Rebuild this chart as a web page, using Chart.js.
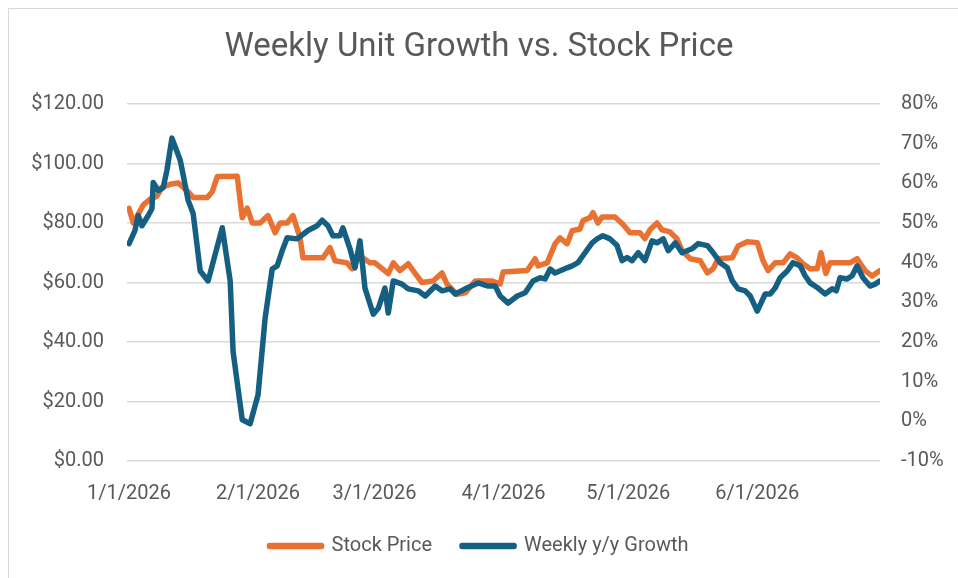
<!DOCTYPE html>
<html>
<head>
<meta charset="utf-8">
<title>Weekly Unit Growth vs. Stock Price</title>
<script src="https://cdn.jsdelivr.net/npm/chart.js@4.4.1/dist/chart.umd.min.js"></script>
<style>
  html, body { margin: 0; padding: 0; background: #ffffff; }
</style>
</head>
<body>
<canvas id="chart_growth" width="958" height="578"></canvas>
<script>
// x axis = days since 1/1/2026
var monthDays = [0, 31, 59, 90, 120, 151];
var monthLabels = ["1/1/2026", "2/1/2026", "3/1/2026", "4/1/2026", "5/1/2026", "6/1/2026"];

// stock price ($)
var priceDays = [0, 1.0, 3.4, 5.0, 6.7, 7.9, 9.9, 11.8, 14.2, 15.4, 18.8, 20.0, 21.2, 26.0, 27.2, 28.4, 29.6, 31.5, 33.4, 35.1,
  36.3, 38.0, 39.4, 41.1, 41.8, 46.6, 48.3, 49.5, 52.4, 53.6, 55.5, 57.9, 59.1, 62.3, 63.5, 65.1, 67.1, 68.8, 70.4, 73.1,
  75.2, 76.4, 78.8, 80.8, 83.2, 87.3, 89.2, 89.9, 95.7, 97.6, 98.3, 100.5, 102.4, 103.6, 105.3, 106.5, 108.4, 109.1, 110.8, 111.5,
  112.7, 113.7, 116.8, 118.8, 120.4, 122.8, 124.0, 125.2, 126.9, 128.1, 130.0, 131.7, 132.9, 134.9, 137.3, 139.0, 140.4, 141.6, 145.0, 146.4,
  148.6, 151.0, 152.4, 153.6, 155.3, 157.2, 158.9, 160.6, 162.0, 163.7, 165.4, 166.3, 167.5, 168.5, 173.3, 175.0, 176.9, 178.6, 180.5];
var priceValues = [84.9, 80, 86, 88, 89, 92, 93, 93.5, 90.5, 88.6, 88.6, 90.5, 95.6, 95.7, 81.8, 85, 80, 80, 82.5, 76.7,
  80, 80, 82.5, 75, 68.3, 68.3, 71.7, 67.3, 66.6, 64.6, 69, 66.6, 66.6, 63, 66.6, 64, 66.3, 63, 60, 60.5,
  63.2, 59.5, 56, 56.5, 60.5, 60.5, 59.5, 63.5, 64, 68, 65.6, 66.6, 73, 75, 73, 77.4, 78, 80.8, 81.8, 83.5,
  80, 82, 82, 79.4, 76.7, 76.7, 74.7, 77.7, 80, 77.7, 77, 74.7, 70.7, 68, 67.3, 63.2, 64.6, 68, 68.3, 72.3,
  73.7, 73.4, 67.3, 64, 66.6, 66.6, 69.6, 68.3, 66.3, 64.6, 64.6, 70, 63, 66.6, 66.6, 68, 64, 62.2, 64];

// weekly y/y growth (%)
var growthDays = [0, 1.4, 2.2, 3.1, 4.6, 5.5, 5.8, 7.0, 8.2, 9.1, 10.3, 12.3, 14.2, 15.4, 17.1, 19.0, 22.4, 24.3, 25.0, 27.2,
  29.1, 31.0, 32.7, 34.4, 35.6, 36.8, 38.0, 40.4, 43.0, 45.2, 46.4, 47.8, 49.0, 50.7, 51.4, 53.1, 54.3, 55.5, 56.7, 58.7,
  59.9, 61.5, 62.3, 63.5, 65.6, 67.1, 69.5, 71.2, 73.6, 75.2, 77.2, 78.4, 80.8, 83.9, 86.3, 88.0, 89.2, 91.1, 93.3, 95.2,
  97.1, 98.8, 100.0, 101.2, 102.4, 105.3, 106.5, 107.9, 109.6, 111.3, 112.5, 113.9, 115.6, 117.3, 118.5, 119.7, 120.9, 122.4, 124.0, 125.7,
  126.9, 128.4, 129.6, 131.3, 132.9, 135.3, 136.8, 139.0, 140.4, 142.1, 143.8, 145.0, 146.4, 148.1, 149.3, 151.0, 152.9, 154.1, 155.3, 156.5,
  158.2, 159.6, 161.3, 162.5, 163.7, 165.6, 167.3, 169.0, 170.0, 170.9, 172.6, 173.8, 175.0, 176.4, 178.1, 179.3, 180.5];
var growthValues = [44.8, 48.1, 51.9, 49.3, 51.9, 53.6, 60.2, 58.2, 58.9, 63.3, 71.4, 65.8, 55.7, 52.4, 37.9, 35.4, 48.8, 35.4, 17.6, 0.4,
  -0.6, 6.7, 26.0, 38.4, 39.2, 43, 46.3, 46, 48.1, 49.3, 50.7, 49.3, 46.8, 46.8, 48.8, 43.5, 38.7, 45.5, 33.6, 27,
  28.5, 33.6, 27.3, 35.4, 34.6, 33.4, 32.9, 31.6, 34.1, 32.9, 33.4, 32.1, 33.4, 34.9, 34.1, 34.1, 31.6, 29.8, 31.6, 32.4,
  35.4, 36.2, 35.9, 38.4, 37.4, 38.7, 39.2, 40, 42.5, 45, 46, 46.8, 46, 44.3, 40.5, 41.3, 40.5, 42.5, 40.5, 45.5,
  45, 46, 43, 45, 42.5, 43.5, 44.8, 44.3, 42.5, 40, 38.7, 35.4, 33.4, 32.9, 31.6, 27.8, 32.1, 32.1, 33.6, 36.2,
  37.9, 40, 39.2, 36.7, 34.9, 33.6, 32.1, 33.4, 32.9, 36.2, 35.9, 36.7, 39.2, 36.2, 34.1, 34.6, 35.4];

var priceTicks = [0, 20, 40, 60, 80, 100, 120];
var growthTicks = [-10, 0, 10, 20, 30, 40, 50, 60, 70, 80];

var textGray = '#595959';
var fontFam = 'Roboto, "Liberation Sans", sans-serif';

function toPoints(xs, ys) {
  return xs.map(function (x, i) { return { x: x, y: ys[i] }; });
}

// white background + light frame like the Excel chart area
var frame = {
  id: 'frame',
  beforeDraw: function (chart) {
    var c = chart.ctx;
    c.save();
    c.fillStyle = '#ffffff';
    c.fillRect(0, 0, chart.width, chart.height);
    c.strokeStyle = '#d9d9d9';
    c.lineWidth = 1;
    c.strokeRect(8.5, 8.5, 980, 600);
    c.restore();
  }
};

var ctx_growth = document.getElementById('chart_growth');

const chart_growth = new Chart(ctx_growth, {
  type: 'line',
  data: {
    datasets: [
      {
        label: 'Stock Price',
        data: toPoints(priceDays, priceValues),
        borderColor: '#E97132',
        backgroundColor: '#E97132',
        borderWidth: 5.5,
        pointRadius: 0,
        borderJoinStyle: 'round',
        borderCapStyle: 'round',
        yAxisID: 'y',
        order: 1
      },
      {
        label: 'Weekly y/y Growth',
        data: toPoints(growthDays, growthValues),
        borderColor: '#156082',
        backgroundColor: '#156082',
        borderWidth: 5.5,
        pointRadius: 0,
        borderJoinStyle: 'round',
        borderCapStyle: 'round',
        yAxisID: 'y1',
        order: 0
      }
    ]
  },
  options: {
    responsive: false,
    devicePixelRatio: 1,
    animation: false,
    layout: { padding: { left: 0, right: 0, top: 0, bottom: 12 } },
    plugins: {
      title: {
        display: true,
        text: 'Weekly Unit Growth vs. Stock Price',
        color: textGray,
        font: { family: fontFam, size: 33, weight: 'normal' },
        padding: { top: 28, bottom: 36.4 }
      },
      legend: {
        display: true,
        position: 'bottom',
        labels: {
          color: textGray,
          font: { family: fontFam, size: 20 },
          boxWidth: 52,
          boxHeight: 1,
          padding: 30,
          sort: function (a, b) { return a.datasetIndex - b.datasetIndex; }
        }
      },
      tooltip: { enabled: false }
    },
    scales: {
      x: {
        type: 'linear',
        min: -0.5,
        max: 180.5,
        grid: { display: false, drawTicks: false },
        border: { display: false },
        afterBuildTicks: function (scale) {
          scale.ticks = monthDays.map(function (d) { return { value: d }; });
        },
        afterFit: function (scale) { scale.height = 45; },
        ticks: {
          autoSkip: false,
          maxRotation: 0,
          padding: 21,
          color: textGray,
          font: { family: fontFam, size: 20 },
          callback: function (value, index) { return monthLabels[index]; }
        }
      },
      y: {
        position: 'left',
        min: 0,
        max: 120,
        afterBuildTicks: function (scale) {
          scale.ticks = priceTicks.map(function (v) { return { value: v }; });
        },
        afterFit: function (scale) { scale.width = 127; },
        grid: { color: '#d9d9d9', lineWidth: 1.5, drawTicks: false },
        border: { display: false },
        ticks: {
          padding: 23,
          color: textGray,
          font: { family: fontFam, size: 20 },
          callback: function (value) { return '$' + value.toFixed(2); }
        }
      },
      y1: {
        position: 'right',
        min: -10,
        max: 80,
        afterBuildTicks: function (scale) {
          scale.ticks = growthTicks.map(function (v) { return { value: v }; });
        },
        afterFit: function (scale) { scale.width = 78; },
        grid: { drawOnChartArea: false, drawTicks: false },
        border: { display: false },
        ticks: {
          padding: 21,
          color: textGray,
          font: { family: fontFam, size: 20 },
          callback: function (value) { return value + '%'; }
        }
      }
    }
  },
  plugins: [frame]
});
</script>
</body>
</html>
